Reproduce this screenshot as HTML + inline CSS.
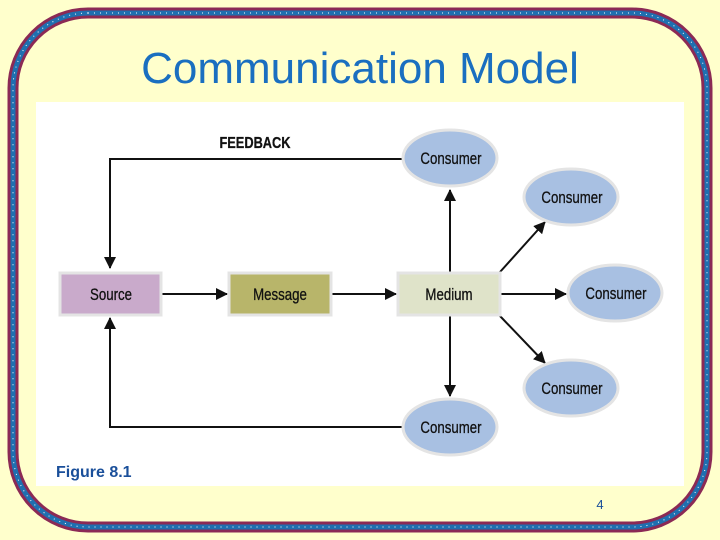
<html><body style="margin:0;width:720px;height:540px;background:#ffffcc;overflow:hidden">
<svg width="720" height="540" xmlns="http://www.w3.org/2000/svg" style="position:absolute;left:0;top:0">
<defs><marker id="b" markerWidth="12" markerHeight="12" refX="11" refY="6" orient="auto" markerUnits="userSpaceOnUse"><path d="M0,0 L12,6 L0,12z" fill="#111"/></marker></defs>
<rect x="13" y="13" width="694" height="514" rx="75" fill="none" stroke="#8b2a55" stroke-width="11"/>
<rect x="13" y="13" width="694" height="514" rx="75" fill="none" stroke="#1f6fb0" stroke-width="5"/>
<rect x="13" y="13" width="694" height="514" rx="75" fill="none" stroke="#fff" stroke-width="1" stroke-dasharray="1 5"/>
<text x="360" y="83" text-anchor="middle" font-family="Liberation Sans" font-size="44" fill="#1a6fc0">Communication Model</text>
<rect x="36" y="102" width="648" height="384" fill="#fff"/>
<g stroke="#111" stroke-width="2" fill="none">
<polyline points="403,159 110,159 110,268" marker-end="url(#b)"/>
<polyline points="403,427 110,427 110,318" marker-end="url(#b)"/>
<line x1="162" y1="294" x2="227" y2="294" marker-end="url(#b)"/>
<line x1="332" y1="294" x2="396" y2="294" marker-end="url(#b)"/>
<line x1="501" y1="294" x2="566" y2="294" marker-end="url(#b)"/>
<line x1="450" y1="273" x2="450" y2="190" marker-end="url(#b)"/>
<line x1="450" y1="315" x2="450" y2="396" marker-end="url(#b)"/>
<line x1="500" y1="272" x2="545" y2="222" marker-end="url(#b)"/>
<line x1="500" y1="316" x2="545" y2="363" marker-end="url(#b)"/>
</g>
<g stroke="#e4e4e4" stroke-width="3">
<rect x="60" y="273" width="101" height="42" fill="#c9aacb"/>
<rect x="229" y="273" width="102" height="42" fill="#b8b56a"/>
<rect x="398" y="273" width="102" height="42" fill="#dfe3c9"/>
<ellipse cx="450" cy="158" rx="47" ry="28" fill="#a8c0e2"/>
<ellipse cx="571" cy="197" rx="47" ry="28" fill="#a8c0e2"/>
<ellipse cx="615" cy="293" rx="47" ry="28" fill="#a8c0e2"/>
<ellipse cx="571" cy="388" rx="47" ry="28" fill="#a8c0e2"/>
<ellipse cx="450" cy="427" rx="47" ry="28" fill="#a8c0e2"/>
</g>
<g font-family="Liberation Sans" font-size="17" fill="#111" text-anchor="middle" stroke="#111" stroke-width="0.3">
<text x="111" y="300" transform="translate(111,0) scale(0.78,1) translate(-111,0)">Source</text>
<text x="280" y="300" transform="translate(280,0) scale(0.78,1) translate(-280,0)">Message</text>
<text x="449" y="300" transform="translate(449,0) scale(0.78,1) translate(-449,0)">Medium</text>
<text x="451" y="164" transform="translate(451,0) scale(0.78,1) translate(-451,0)">Consumer</text>
<text x="572" y="203" transform="translate(572,0) scale(0.78,1) translate(-572,0)">Consumer</text>
<text x="616" y="299" transform="translate(616,0) scale(0.78,1) translate(-616,0)">Consumer</text>
<text x="572" y="394" transform="translate(572,0) scale(0.78,1) translate(-572,0)">Consumer</text>
<text x="451" y="433" transform="translate(451,0) scale(0.78,1) translate(-451,0)">Consumer</text>
<text x="255" y="148" font-weight="bold" font-size="16" transform="translate(255,0) scale(0.8,1) translate(-255,0)">FEEDBACK</text>
</g>
<text x="56" y="477" font-family="Liberation Sans" font-weight="bold" font-size="16" fill="#1a4f9a">Figure 8.1</text>
<text x="600" y="509" text-anchor="middle" font-family="Liberation Sans" font-size="13" fill="#1a4f9a">4</text>
</svg>
</body></html>
